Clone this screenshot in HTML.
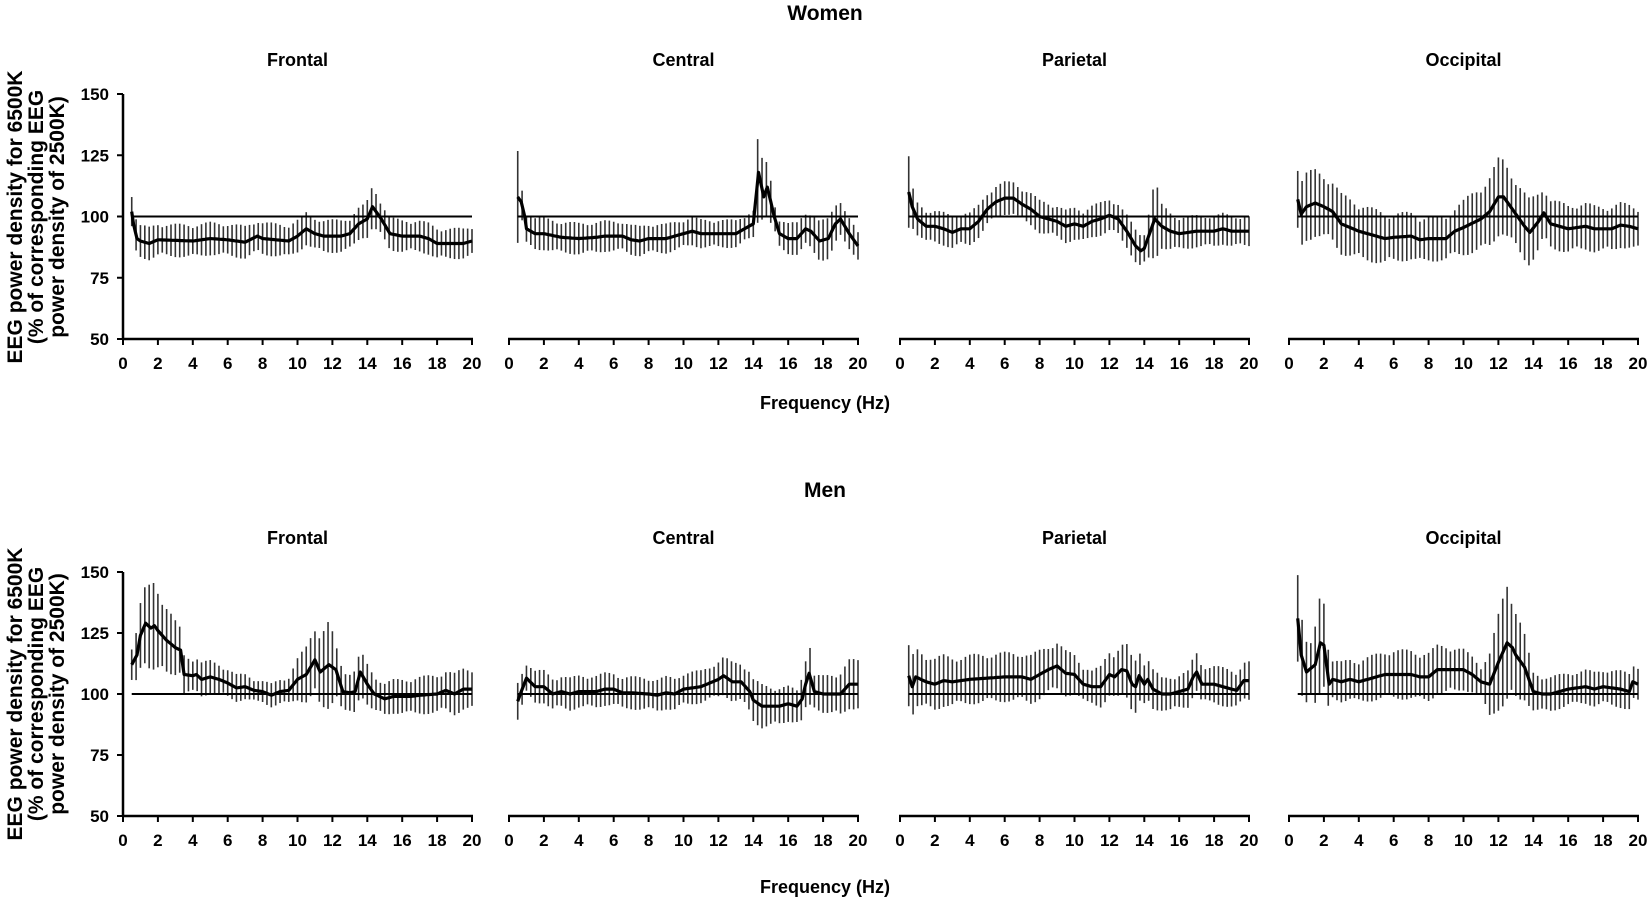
<!DOCTYPE html>
<html><head><meta charset="utf-8"><style>
html,body{margin:0;padding:0;background:#fff;width:1650px;height:904px;overflow:hidden}
svg{display:block}
text{font-family:"Liberation Sans",Arial,sans-serif;font-weight:bold;fill:#000}
</style></head><body>
<svg id="s" width="1650" height="904" xmlns="http://www.w3.org/2000/svg">
<text x="825" y="20" font-size="21" text-anchor="middle">Women</text>
<text x="825" y="497" font-size="21" text-anchor="middle">Men</text>
<text x="825" y="409" font-size="18" text-anchor="middle">Frequency (Hz)</text>
<text x="825" y="893" font-size="18" text-anchor="middle">Frequency (Hz)</text>
<g font-size="21" text-anchor="middle">
<text transform="translate(22,217) rotate(-90)">EEG power density for 6500K</text>
<text transform="translate(43,217) rotate(-90)">(% of corresponding EEG</text>
<text transform="translate(64,217) rotate(-90)">power density of 2500K)</text>
<text transform="translate(22,694) rotate(-90)">EEG power density for 6500K</text>
<text transform="translate(43,694) rotate(-90)">(% of corresponding EEG</text>
<text transform="translate(64,694) rotate(-90)">power density of 2500K)</text>
</g>
<g id="g"></g>
</svg>
<script>
var NS="http://www.w3.org/2000/svg",G=document.getElementById('g');
function el(t,a,txt){var e=document.createElementNS(NS,t);for(var k in a)e.setAttribute(k,a[k]);if(txt!=null)e.textContent=txt;G.appendChild(e);return e;}
var X0=[123,509,900,1289],W=349;
var rows=[{y150:94,y50:339,ty:66},{y150:572,y50:816,ty:544}];
var names=["Frontal","Central","Parietal","Occipital"];
var D=[
{m:[[.5,102],[.6,97],[.8,91],[1,90],[1.5,89],[2,90.5],[4,90],[5,91],[6,90.5],[7,89.5],[7.7,92],[8,91],[9.5,90],[10,92],[10.5,95],[11,93],[11.5,92],[12.5,92],[13,93],[13.5,97],[14,99],[14.3,104],[14.8,99],[15.3,93],[16,92],[16.5,92],[17,92],[17.5,91],[18,89],[19,89],[19.5,89],[20,90]],e:[[.5,7],[1,6],[13.8,6],[14.3,8],[15,6],[20,5.5]]},
{m:[[.5,108],[.7,106],[.9,100],[1,95],[1.5,93],[2,93],[3,91.5],[4,91],[5,91.5],[5.5,92],[6.5,92],[7,90.5],[7.5,90],[8,91],[9,91],[9.5,92],[10,93],[10.5,94],[11,93],[12,93],[13,93],[13.5,95],[14,97],[14.3,118],[14.6,108],[14.8,112],[15.2,100],[15.5,93],[16,91],[16.5,91],[17,95],[17.3,94],[17.8,90],[18.3,91],[18.7,97],[19,99],[19.5,93],[20,88]],e:[[.5,17],[.7,6],[14,5],[14.3,17],[14.6,8],[14.8,11],[15.3,5],[18.8,8],[19.2,6],[20,5]]},
{m:[[.5,110],[.7,104],[1,99],[1.5,96],[2,96],[2.5,95],[3,93.5],[3.5,95],[4,95],[4.5,98],[5,103],[5.5,106],[6,107.5],[6.5,107.5],[7,105],[7.5,103],[8,100],[9,98],[9.5,96],[10,97],[10.5,96],[11,98],[11.5,99],[12,100.5],[12.5,99],[13,94],[13.5,88],[13.8,86],[14,87],[14.3,93],[14.6,99],[15,96],[15.5,94],[16,93],[17,94],[18,94],[18.5,95],[19,94],[20,94]],e:[[.5,13],[.8,6],[14,6],[14.3,10],[14.6,15],[15,8],[16,6],[20,5.5]]},
{m:[[.5,107],[.7,101],[1,104],[1.5,105.5],[2,104],[2.5,102],[3,97],[4,94],[5,92],[5.5,91],[6,91.5],[7,92],[7.5,90.5],[8,91],[9,91],[9.5,94],[10,95.5],[11,99],[11.5,102],[12,108],[12.3,108],[13,101],[13.5,96],[13.8,93.5],[14.3,98],[14.6,101.5],[15,97],[15.5,96],[16,95],[17,96],[17.5,95],[18,95],[18.5,95],[19,96.5],[19.5,96],[20,95]],e:[[.5,13],[3,11],[6,9],[9,8],[12,14],[13.8,12],[15,9],[20,8]]},
{m:[[.5,112],[.8,116],[1,124],[1.3,129],[1.6,127],[1.8,128],[2,126],[2.5,122],[3,119],[3.3,118],[3.5,108],[4,107.5],[4.2,108],[4.5,106],[5,107],[5.5,106],[6,104.5],[6.5,102.5],[7,103],[7.5,101.5],[8,101],[8.5,99.5],[9,101],[9.5,101.5],[10,106],[10.5,108],[11,114],[11.3,109],[11.8,112],[12.2,110],[12.6,101],[13,100.5],[13.3,101],[13.6,109],[14,104],[14.4,100],[15,98],[15.5,99],[16,99],[16.5,99],[17,99.5],[18,100],[18.5,101.5],[19,100],[19.5,102],[20,102]],e:[[.5,7],[1,12],[1.8,17],[3.3,8],[3.6,7],[8,4],[9.5,5],[11,13],[11.8,16],[12.3,8],[13.6,8],[15,6],[20,8]]},
{m:[[.5,97],[.7,101],[1,106.5],[1.5,103],[2,103],[2.5,100],[3,101],[3.5,100],[4,101],[5,101],[5.5,102],[6,102],[6.5,100.5],[7,100.5],[8,100],[8.5,99.5],[9,100.5],[9.5,100],[10,102],[11,103],[11.5,104.5],[12,106],[12.3,107.5],[12.8,105],[13.3,105],[13.8,101],[14,97.5],[14.5,95],[15.5,95],[16,96],[16.5,95],[16.8,98],[17,104],[17.2,108.5],[17.5,101],[18,100],[18.5,100],[19,100],[19.5,104],[20,104]],e:[[.5,7],[1,6],[11,6],[12.3,7],[14.5,8],[16.5,6],[17.2,13],[17.5,6],[19.5,9],[20,9]]},
{m:[[.5,107.5],[.7,103],[.9,107],[1.5,105],[2,104],[2.5,105.5],[3,105],[4,106],[5,106.5],[6,107],[7,107],[7.5,106],[8,108],[8.5,110],[9,111.5],[9.5,108.5],[10,108],[10.5,104],[11,103],[11.5,103],[12,108],[12.3,107],[12.7,110],[13,109.5],[13.3,104],[13.5,103],[13.7,107.5],[14,104],[14.2,106],[14.5,102],[15,100],[15.5,100],[16,101],[16.5,102],[16.8,107],[17,109],[17.3,104],[18,104],[18.5,103],[19,102],[19.3,101.5],[19.7,105.5],[20,105.5]],e:[[.5,11],[3,9],[9,9],[11,6],[12,9],[13.7,10],[15,6],[17,7],[20,7]]},
{m:[[.5,131],[.7,116],[1,109],[1.5,112],[1.8,121],[2,120],[2.3,104],[2.5,106],[3,105],[3.5,106],[4,105],[5,107],[5.5,108],[6,108],[7,108],[7.5,107],[8,107],[8.5,110],[9,110],[10,110],[10.5,108],[11,105],[11.5,104],[12,113],[12.5,121],[12.8,119],[13,116],[13.5,111],[14,101],[14.5,100],[15,100],[15.5,101],[16,102],[17,103],[17.5,102],[18,103],[19,102],[19.5,101],[19.7,105],[20,104]],e:[[.5,19],[.8,14],[1.2,8],[1.8,20],[2.1,18],[2.4,7],[6,9],[9,9],[11,6],[12.5,23],[13.5,12],[14,7],[16,6],[20,7]]}
];
function interp(a,f){if(f<=a[0][0])return a[0][1];for(var i=1;i<a.length;i++){if(f<=a[i][0]){var p=a[i-1],q=a[i];return p[1]+(q[1]-p[1])*(f-p[0])/(q[0]-p[0]);}}return a[a.length-1][1];}
for(var r=0;r<2;r++){var R=rows[r],k=(R.y50-R.y150)/100;function Y(v){return R.y150+(150-v)*k;}
 for(var c=0;c<4;c++){var x0=X0[c],s=W/20;function X(f){return x0+f*s;}
  el('text',{x:x0+W/2,y:R.ty,'font-size':18,'text-anchor':'middle'},names[c]);
  el('line',{x1:x0-1,x2:x0+W+1,y1:R.y50,y2:R.y50,stroke:'#000','stroke-width':2.5});
  for(var t=0;t<=20;t+=2){el('line',{x1:X(t),x2:X(t),y1:R.y50,y2:R.y50+6,stroke:'#000','stroke-width':2});
   el('text',{x:X(t),y:R.y50+30,'font-size':17,'text-anchor':'middle'},t);}
  if(c==0){el('line',{x1:x0,x2:x0,y1:R.y150,y2:R.y50,stroke:'#000','stroke-width':2.5});
   for(var v=50;v<=150;v+=25){el('line',{x1:x0-6,x2:x0,y1:Y(v),y2:Y(v),stroke:'#000','stroke-width':2});
    el('text',{x:x0-14,y:Y(v)+6,'font-size':17,'text-anchor':'end'},v);}}
  var d=D[r*4+c],pts=[];
  for(var i=0;i<=78;i++){var f=0.5+i*0.25,m=interp(d.m,f),e=interp(d.e,f)*(0.85+0.3*Math.abs(Math.sin(i*2.7+c+r*3)));
   el('line',{x1:X(f),x2:X(f),y1:Y(m+e),y2:Y(m-e),stroke:'#333','stroke-width':1.6});}
  for(var i=0;i<=195;i++){var f=0.5+i*0.1;pts.push(X(f).toFixed(1)+','+Y(interp(d.m,f)).toFixed(1));}
  el('line',{x1:X(0.5),x2:X(20),y1:Y(100),y2:Y(100),stroke:'#000','stroke-width':2});
  el('polyline',{points:pts.join(' '),fill:'none',stroke:'#000','stroke-width':3.2,'stroke-linejoin':'round'});
 }}
</script>
</body></html>
